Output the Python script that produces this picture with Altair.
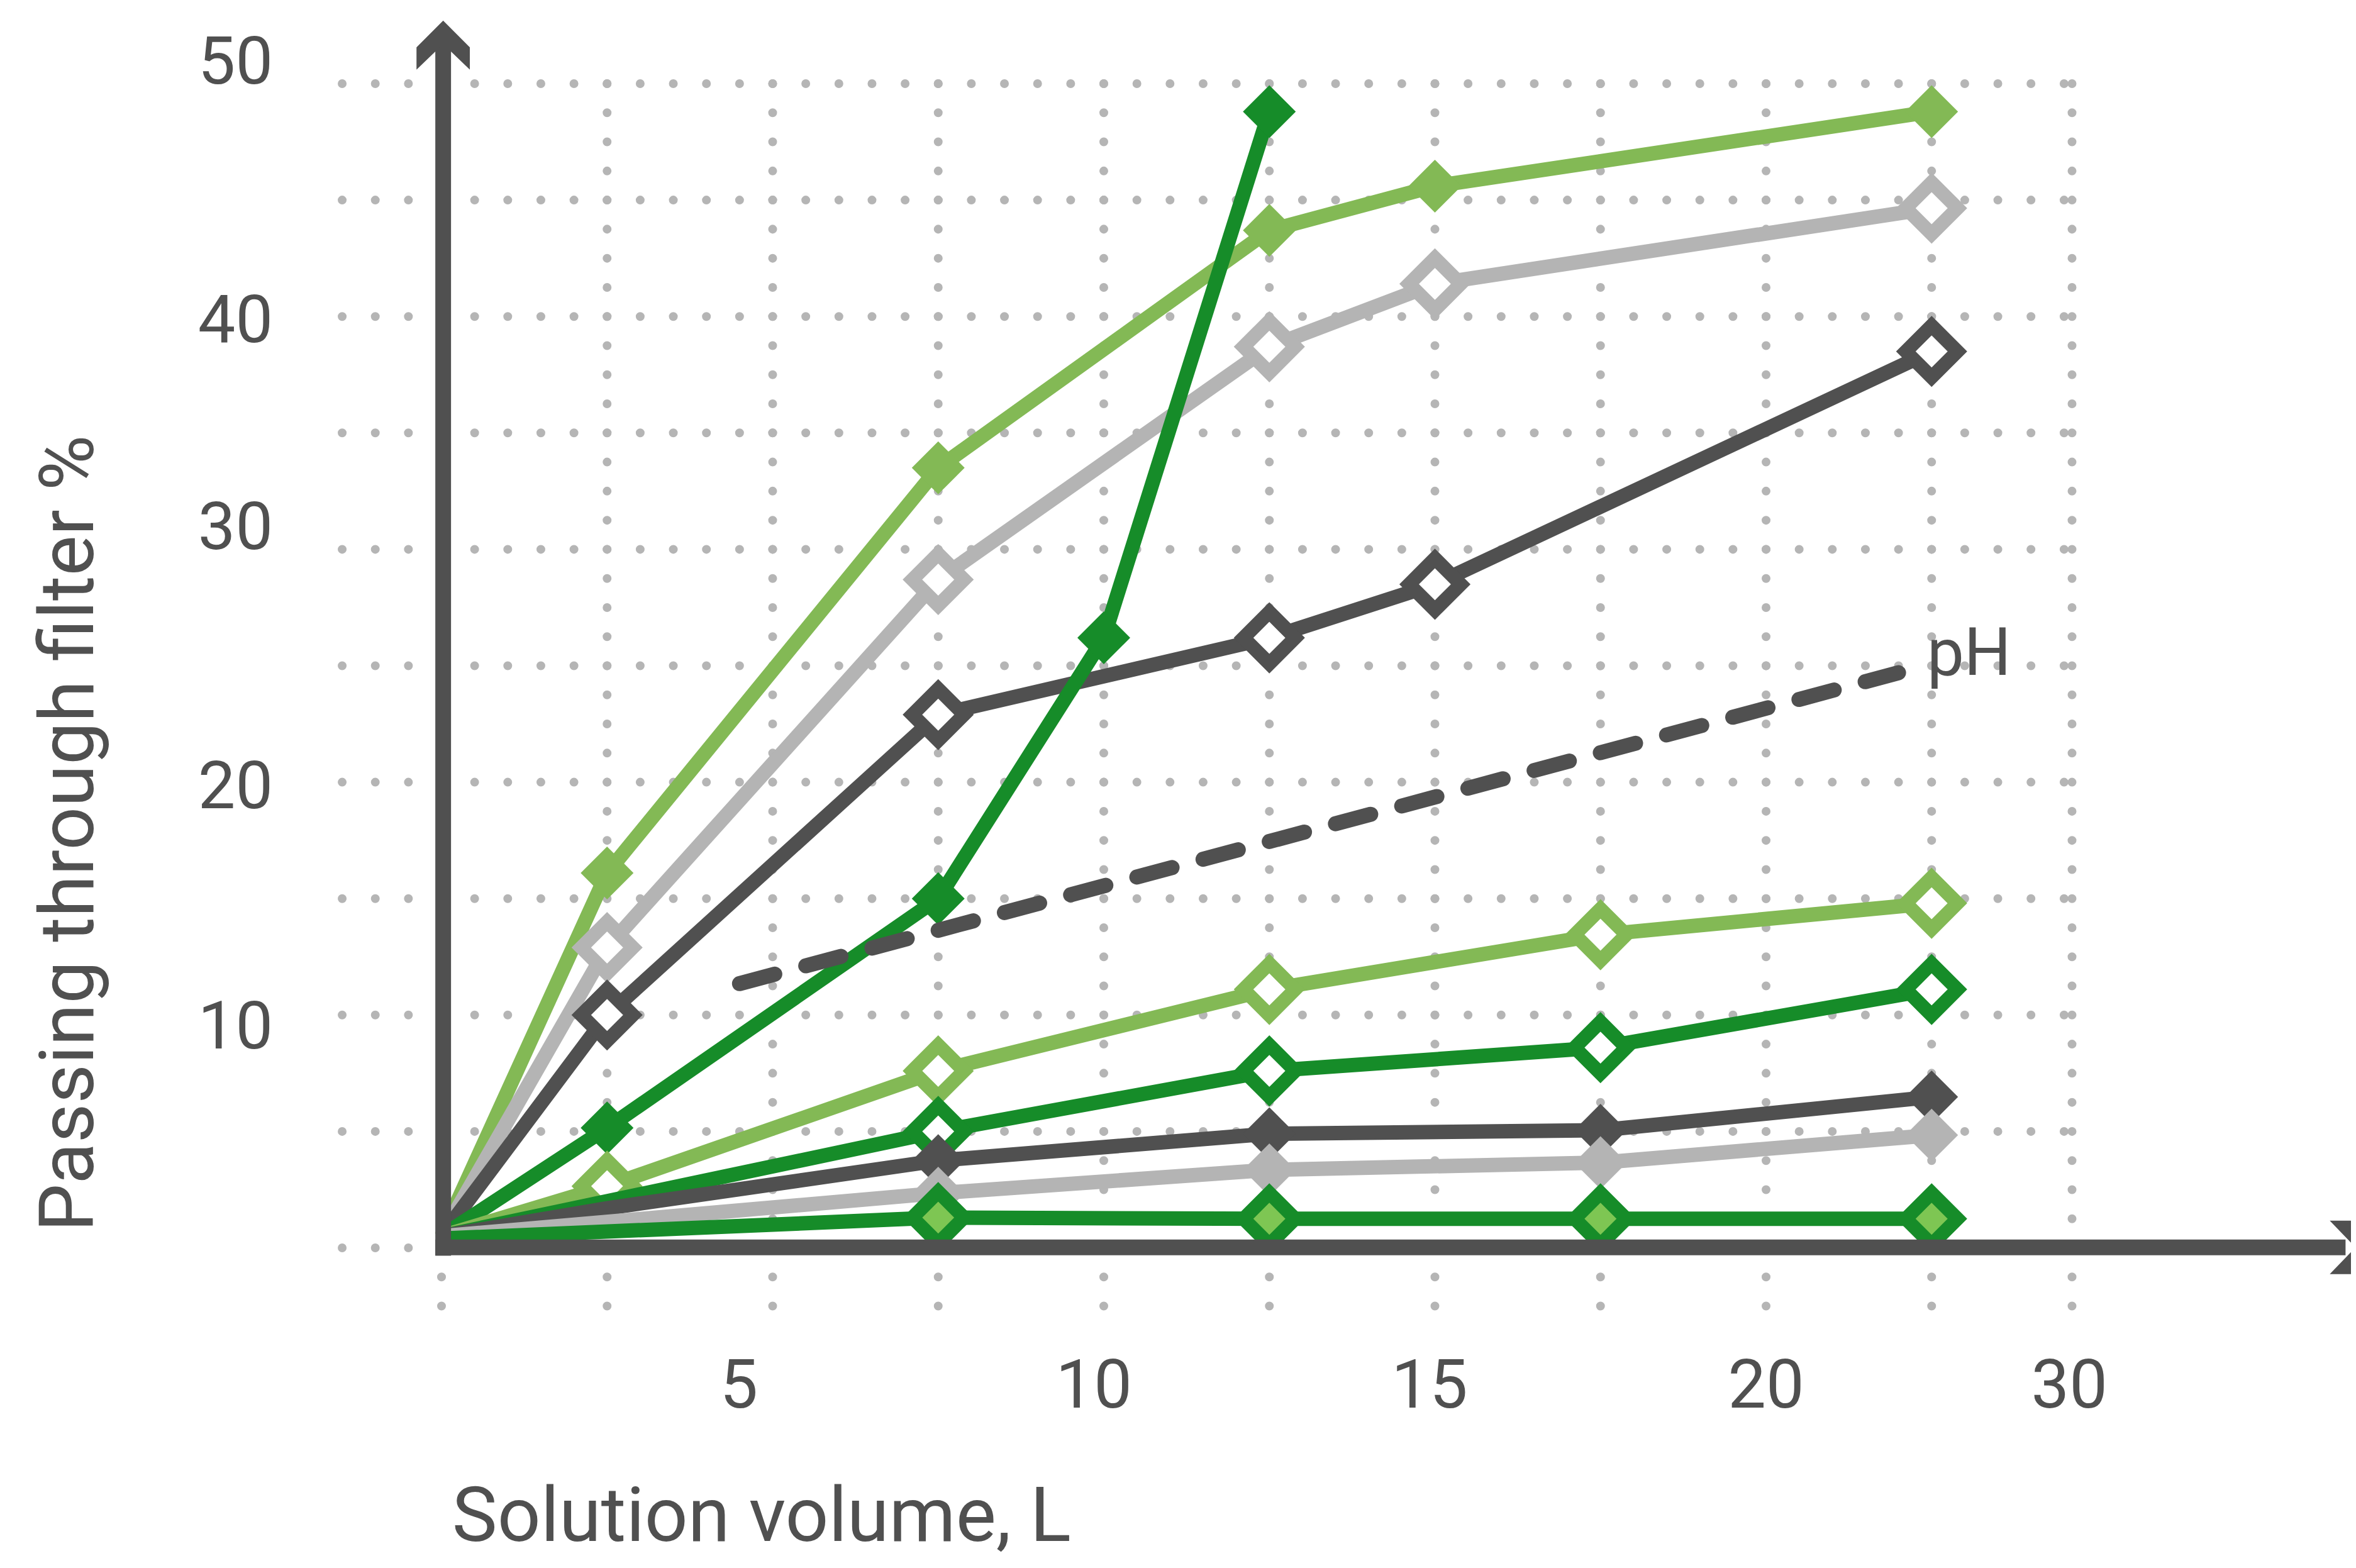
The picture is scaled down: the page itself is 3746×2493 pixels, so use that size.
import altair as alt
import pandas as pd

# ---------------- tick / grid data ----------------
grid_rows = [0, 5, 10, 15, 20, 25, 30, 35, 40, 45, 50]
grid_cols = [0, 2.5, 5, 7.5, 10, 12.5, 15, 17.5, 20, 22.5, 24.62]
x_tick_text = ["5", "10", "15", "20", "30"]
x_tick_pos = [4.49, 9.85, 14.92, 20.0, 24.58]
y_tick_text = ["50", "40", "30", "20", "10"]
y_tick_pos = [50.0, 38.9, 30.0, 18.88, 8.56]

# ---------------- series data ----------------
a_x = [0, 2.5, 7.5, 12.5, 15, 22.5]
a_y = [0.5, 16.1, 33.5, 43.7, 45.6, 48.8]
a_m = [0, 1, 1, 1, 1, 1]

b_x = [0, 2.5, 7.5, 12.5, 15, 22.5]
b_y = [0.5, 12.9, 28.7, 38.7, 41.4, 44.65]
b_m = [0, 1, 1, 1, 1, 1]

c_x = [0, 2.5, 7.5, 12.5, 15, 22.5]
c_y = [0.5, 10.0, 22.9, 26.2, 28.5, 38.5]
c_m = [0, 1, 1, 1, 1, 1]

d_x = [0, 2.5, 7.5, 10, 12.5]
d_y = [0.5, 5.15, 15.0, 26.2, 48.8]
d_m = [0, 1, 1, 1, 1]

ph_x = [4.5, 22.0]
ph_y = [11.35, 24.7]
ph_m = [0, 0]

e_x = [0, 2.5, 7.5, 12.5, 17.5, 22.5]
e_y = [0.5, 2.65, 7.6, 11.1, 13.45, 14.8]
e_m = [0, 1, 1, 1, 1, 1]

f_x = [0, 7.5, 12.5, 17.5, 22.5]
f_y = [0.5, 5.0, 7.6, 8.6, 11.1]
f_m = [0, 1, 1, 1, 1]

g_x = [0, 2.5, 7.5, 12.5, 17.5, 22.5]
g_y = [0.5, 1.7, 3.75, 4.9, 5.05, 6.48]
g_m = [0, 0, 1, 1, 1, 1]

h_x = [0, 7.5, 12.5, 17.5, 22.5]
h_y = [0.5, 2.35, 3.35, 3.66, 4.84]
h_m = [0, 1, 1, 1, 1]

i_x = [0, 7.5, 12.5, 17.5, 22.5]
i_y = [0.4, 1.3, 1.25, 1.25, 1.25]
i_m = [0, 1, 1, 1, 1]

# ---------------- styles ----------------
LG = "#83b955"
LGR = "#b4b4b4"
DG = "#505050"
G = "#168c29"
LF = "#7ec653"
GRID = "#b5b5b5"
FONT = "Roboto"

W, H = 3730, 2477
PXX, PXY = 105.3, 37.02
X0_PAGE, Y0_PAGE = 702, 1984
xmin = -(X0_PAGE - 8) / PXX
xmax = xmin + W / PXX
ymax = (Y0_PAGE - 8) / PXY
ymin = ymax - H / PXY

xs = alt.Scale(domain=[xmin, xmax], nice=False, zero=False)
ys = alt.Scale(domain=[ymin, ymax], nice=False, zero=False)


def X(f="x"):
    return alt.X(f + ":Q", scale=xs, axis=None)


def Y(f="y"):
    return alt.Y(f + ":Q", scale=ys, axis=None)


layers = []

# grid rows (dotted)
rows_df = pd.DataFrame({"y": grid_rows, "x": -1.5, "x2": 24.62})
layers.append(
    alt.Chart(rows_df).mark_rule(color=GRID, strokeWidth=14, strokeCap="round",
                                 strokeDash=[0.01, 0.5 * PXX - 0.01])
    .encode(x=X(), x2="x2:Q", y=Y())
)
# grid columns (dotted)
cols_df = pd.DataFrame({"x": grid_cols, "y": 50, "y2": -2.5})
layers.append(
    alt.Chart(cols_df).mark_rule(color=GRID, strokeWidth=14, strokeCap="round",
                                 strokeDash=[0.01, 1.25 * PXY - 0.01])
    .encode(x=X(), y=Y(), y2="y2:Q")
)

series = [
    (a_x, a_y, a_m, dict(color=LG, fill=LG, stroke=None)),
    (b_x, b_y, b_m, dict(color=LGR, fill="white", stroke=LGR)),
    (c_x, c_y, c_m, dict(color=DG, fill="white", stroke=DG)),
    (d_x, d_y, d_m, dict(color=G, fill=G, stroke=None)),
    (ph_x, ph_y, ph_m, dict(color=DG, dashed=True)),
    (e_x, e_y, e_m, dict(color=LG, fill="white", stroke=LG)),
    (f_x, f_y, f_m, dict(color=G, fill="white", stroke=G)),
    (g_x, g_y, g_m, dict(color=DG, fill=DG, stroke=None)),
    (h_x, h_y, h_m, dict(color=LGR, fill=LGR, stroke=None)),
    (i_x, i_y, i_m, dict(color=G, fill=LF, stroke=G)),
]

for sx, sy, sm, st in series:
    df = pd.DataFrame({"x": sx, "y": sy, "m": sm})
    base = alt.Chart(df)
    if st.get("dashed"):
        layers.append(
            base.mark_line(color=st["color"], strokeWidth=24, strokeCap="round",
                           strokeDash=[58, 51]).encode(x=X(), y=Y())
        )
        continue
    layers.append(
        base.mark_line(color=st["color"], strokeWidth=23, strokeJoin="miter")
        .encode(x=X(), y=Y())
    )
    if st["stroke"] is None:
        pt = base.transform_filter("datum.m == 1").mark_point(
            shape="diamond", filled=True, fill=st["fill"], size=7056,
            opacity=1, strokeWidth=0)
    else:
        pt = base.transform_filter("datum.m == 1").mark_point(
            shape="diamond", filled=True, fill=st["fill"], stroke=st["stroke"],
            strokeWidth=22, strokeJoin="miter", size=6724, opacity=1)
    layers.append(pt.encode(x=X(), y=Y()))

# axes shafts
layers.append(
    alt.Chart(pd.DataFrame({"x": [0.025], "y": [-0.34], "y2": [51.7]}))
    .mark_rule(color=DG, strokeWidth=25, strokeCap="butt")
    .encode(x=X(), y=Y(), y2="y2:Q")
)
layers.append(
    alt.Chart(pd.DataFrame({"x": [-0.095], "x2": [28.75], "y": [0.02]}))
    .mark_rule(color=DG, strokeWidth=25, strokeCap="butt")
    .encode(x=X(), x2="x2:Q", y=Y())
)
# arrowheads
UP = "M0,-1L1,0L1,0.84L0,-0.123L-1,0.84L-1,0Z"
RIGHT = "M1,0L0,1L-0.84,1L0.123,0L-0.84,-1L0,-1Z"
layers.append(
    alt.Chart(pd.DataFrame({"x": [0.025], "y": [51.56]}))
    .mark_point(shape=UP, filled=True, fill=DG, size=7191, opacity=1, strokeWidth=0)
    .encode(x=X(), y=Y())
)
layers.append(
    alt.Chart(pd.DataFrame({"x": [28.85], "y": [0.02]}))
    .mark_point(shape=RIGHT, filled=True, fill=DG, size=7191, opacity=1, strokeWidth=0)
    .encode(x=X(), y=Y())
)

# tick labels
layers.append(
    alt.Chart(pd.DataFrame({"t": y_tick_text, "y": y_tick_pos, "x": -2.545}))
    .mark_text(align="right", baseline="alphabetic", fontSize=106, font=FONT, color=DG)
    .encode(x=X(), y=Y(), text="t:N")
)
layers.append(
    alt.Chart(pd.DataFrame({"t": x_tick_text, "x": x_tick_pos, "y": -6.85}))
    .mark_text(align="center", baseline="alphabetic", fontSize=108, font=FONT, color=DG)
    .encode(x=X(), y=Y(), text="t:N")
)
# pH label
layers.append(
    alt.Chart(pd.DataFrame({"t": ["pH"], "x": [22.43], "y": [24.6]}))
    .mark_text(align="left", baseline="alphabetic", fontSize=105, font=FONT, color=DG)
    .encode(x=X(), y=Y(), text="t:N")
)
# axis titles
layers.append(
    alt.Chart(pd.DataFrame({"t": ["Solution volume, L"], "x": [0.16], "y": [-12.6]}))
    .mark_text(align="left", baseline="alphabetic", fontSize=121, font=FONT, color=DG)
    .encode(x=X(), y=Y(), text="t:N")
)
layers.append(
    alt.Chart(pd.DataFrame({"t": ["Passing through filter %"], "x": [-5.26], "y": [17.8]}))
    .mark_text(align="center", baseline="alphabetic", angle=270, fontSize=121,
               font=FONT, color=DG)
    .encode(x=X(), y=Y(), text="t:N")
)

chart = (
    alt.layer(*layers)
    .properties(width=W, height=H, autosize=alt.AutoSizeParams(type="none"),
                padding=0, background="white")
    .configure_view(stroke=None)
)

chart.save("out.html", embed_options={"renderer": "svg", "actions": False})
